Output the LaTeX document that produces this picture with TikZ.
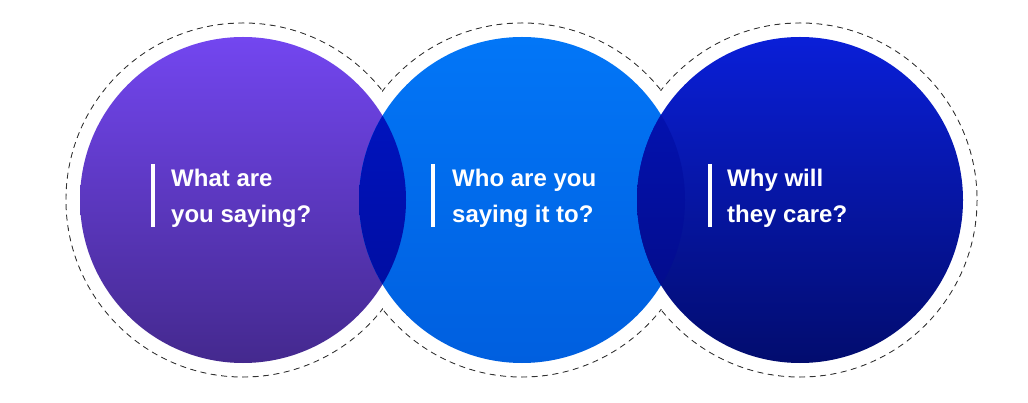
\documentclass[tikz,border=0pt]{standalone}
\usepackage{fontspec}
\setmainfont{Liberation Sans}
\usepackage{xcolor}
\usepackage{tikz}
\usetikzlibrary{calc}

\definecolor{whatTop}{HTML}{7346F0}
\definecolor{whatBot}{HTML}{44298E}
\definecolor{whoTop}{HTML}{0276F7}
\definecolor{whoBot}{HTML}{005FDF}
\definecolor{whyTop}{HTML}{0A1FD8}
\definecolor{whyBot}{HTML}{020C6E}
\definecolor{lensATop}{HTML}{0016CA}
\definecolor{lensABot}{HTML}{000B96}
\definecolor{lensBTop}{HTML}{0414BE}
\definecolor{lensBBot}{HTML}{020A7E}

\tikzset{
    dashring/.style={draw=black!80, line width=1pt, dash pattern=on 6pt off 4.5pt},
    qtext/.style={text=white, font=\fontsize{24}{36}\selectfont\bfseries, align=left, inner sep=0pt, anchor=base west},
    qbar/.style={draw=white, line width=4pt}
}

\begin{document}
\begin{tikzpicture}[x=1pt,y=-1pt]
                \useasboundingbox (0,0) rectangle (1028,403);
                % Dashed outer rings
                \foreach \cx in {243, 522, 800} {
                    \draw[dashring] (\cx,200) circle(177);
                }
                \foreach \cx in {243, 522, 800} {
                    \fill[white] (\cx,200) circle(176.3);
                }
                % Three circles
                \shade[top color=whatTop, bottom color=whatBot] (243,200) circle(163);
                \shade[top color=whoTop, bottom color=whoBot] (522,200) circle(163);
                \begin{scope}
                    \clip (243,200) circle(163);
                    \shade[top color=lensATop, bottom color=lensABot] (522,200) circle(163);
                \end{scope}
                \shade[top color=whyTop, bottom color=whyBot] (800,200) circle(163);
                \begin{scope}
                    \clip (522,200) circle(163);
                    \shade[top color=lensBTop, bottom color=lensBBot] (800,200) circle(163);
                \end{scope}
                % Questions
                \foreach \bx/\tx/\nm/\q in {153/171/what/{What are\\you saying?},
                                            433/452/who/{Who are you\\saying it to?},
                                            710/727/why/{Why will\\they care?}} {
                    \draw[qbar] (\bx,164) -- (\bx,227);
                    \node[qtext] (\nm) at (\tx,223) {\q};
                }
            \end{tikzpicture}
\end{document}
